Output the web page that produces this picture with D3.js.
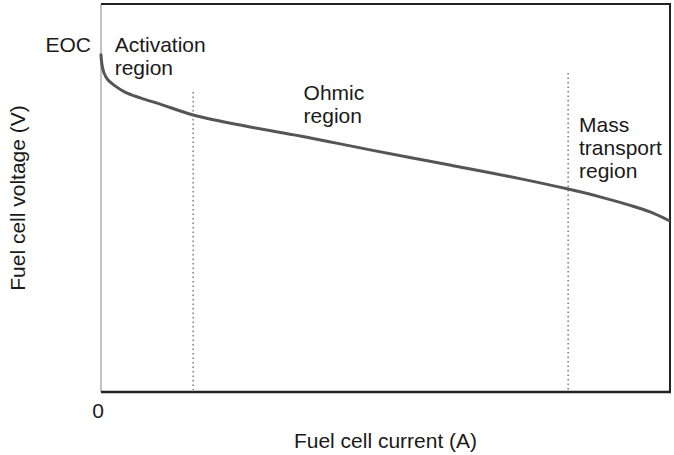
<!DOCTYPE html>
<html>
<head>
<meta charset="utf-8">
<script src="https://cdn.jsdelivr.net/npm/d3@7"></script>
<style>
  html, body { margin: 0; padding: 0; background: #fff; }
  svg { display: block; font-family: "Liberation Sans", Arial, Helvetica, sans-serif; }
</style>
</head>
<body>
<svg id="chart" width="674" height="455"></svg>
<script>
// Data (relative units: current 0-100, voltage 0-100)
const current = [0, 0.18, 0.53, 1.23, 2.46, 4.2, 6.9, 10.4, 16.2, 26.2, 35.0, 47.3, 61.3, 73.6, 82.1, 87.7, 93.0, 96.5, 99.8];
const voltage = [86.9, 84.3, 82.2, 80.4, 78.9, 77.3, 75.8, 74.2, 71.4, 68.3, 66.0, 62.4, 58.5, 55.0, 52.3, 50.3, 48.1, 46.4, 44.2];
const boundaries = [16.2, 82.1];
const boundaryTops = [77.3, 82.2];
const xTickLabels = ["0"];
const xTickValues = [0];
const regionLabels = [
  { lines: ["Activation", "region"], x: 2.4, y: 87.6 },
  { lines: ["Ohmic", "region"], x: 35.6, y: 75.3 },
  { lines: ["Mass", "transport", "region"], x: 84.0, y: 67.0 }
];
const eocLabel = "EOC";
const xTitle = "Fuel cell current (A)";
const yTitle = "Fuel cell voltage (V)";

const svg = d3.select("#chart");
const margin = { left: 101, right: 4, top: 4, bottom: 63 };
const W = 674, H = 455;
const x = d3.scaleLinear().domain([0, 100]).range([margin.left, W - margin.right]);
const y = d3.scaleLinear().domain([0, 100]).range([H - margin.bottom, margin.top]);

const fontSize = 21;
const textColor = "#1a1a1a";

// frame
const x0 = x(0), x1 = x(100), y0 = y(0), y1 = y(100);
svg.append("line").attr("x1", x0).attr("x2", x0).attr("y1", y1).attr("y2", y0)
  .attr("stroke", "#999").attr("stroke-width", 1.2);
svg.append("line").attr("x1", x0).attr("x2", x1 + 1).attr("y1", y1).attr("y2", y1)
  .attr("stroke", "#222").attr("stroke-width", 2);
svg.append("line").attr("x1", x1).attr("x2", x1).attr("y1", y1).attr("y2", y0)
  .attr("stroke", "#222").attr("stroke-width", 2);
svg.append("line").attr("x1", x0).attr("x2", x1 + 1).attr("y1", y0).attr("y2", y0)
  .attr("stroke", "#222").attr("stroke-width", 2.5);

// region boundaries (dotted)
svg.selectAll("line.bound").data(boundaries).enter().append("line")
  .attr("class", "bound")
  .attr("x1", d => x(d)).attr("x2", d => x(d))
  .attr("y1", (d, i) => y(boundaryTops[i])).attr("y2", y(0) - 2)
  .attr("stroke", "#777").attr("stroke-width", 1.5)
  .attr("stroke-dasharray", "1.5,3");

// curve
const pts = current.map((c, i) => [c, voltage[i]]);
const line = d3.line().x(d => x(d[0])).y(d => y(d[1])).curve(d3.curveCatmullRom.alpha(0.5));
svg.append("path").datum(pts).attr("d", line)
  .attr("fill", "none").attr("stroke", "#555").attr("stroke-width", 3)
  .attr("stroke-linecap", "round");

// region labels
regionLabels.forEach(r => {
  const t = svg.append("text").attr("x", x(r.x)).attr("y", y(r.y))
    .attr("font-size", fontSize).attr("fill", textColor);
  r.lines.forEach((l, i) => {
    t.append("tspan").attr("x", x(r.x)).attr("dy", i === 0 ? 0 : 23).text(l);
  });
});

// EOC label
svg.append("text").attr("x", x(0) - 10).attr("y", y(87.6))
  .attr("text-anchor", "end").attr("font-size", fontSize).attr("fill", textColor)
  .text(eocLabel);

// x tick label
svg.selectAll("text.xtick").data(xTickValues).enter().append("text")
  .attr("class", "xtick")
  .attr("x", d => x(d) - 3).attr("y", y(0) + 26)
  .attr("text-anchor", "middle").attr("font-size", fontSize).attr("fill", textColor)
  .text((d, i) => xTickLabels[i]);

// axis titles
svg.append("text").attr("x", (x0 + x1) / 2).attr("y", 448)
  .attr("text-anchor", "middle").attr("font-size", fontSize).attr("fill", textColor)
  .text(xTitle);
svg.append("text")
  .attr("transform", `translate(25, ${(y0 + y1) / 2}) rotate(-90)`)
  .attr("text-anchor", "middle").attr("font-size", fontSize).attr("fill", textColor)
  .text(yTitle);
</script>
</body>
</html>
